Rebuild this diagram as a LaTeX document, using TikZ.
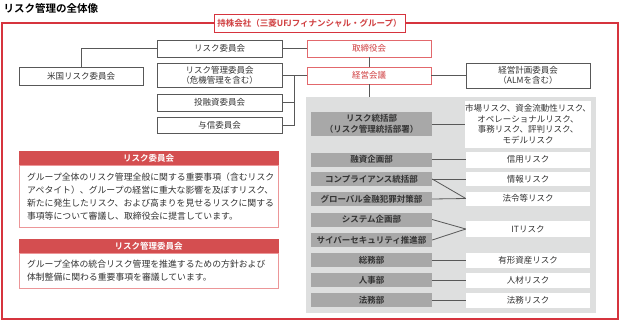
\documentclass[tikz,border=0pt]{standalone}
\usepackage{fontspec}
\setmainfont{Noto Sans CJK JP}[BoldFont={Noto Sans CJK JP Bold}]
\usetikzlibrary{positioning,calc}
\definecolor{frm}{RGB}{214,52,62}
\definecolor{rtx}{RGB}{208,62,64}
\definecolor{rbd}{RGB}{226,104,108}
\definecolor{hdr}{RGB}{212,78,80}
\definecolor{pbd}{RGB}{236,150,152}
\definecolor{gbg}{RGB}{222,223,223}
\definecolor{dpt}{RGB}{168,168,168}
\definecolor{ln}{RGB}{88,88,88}

\begin{document}
\begin{tikzpicture}[x=1pt,y=-1pt,
  cbox/.style={draw=ln,line width=0.8pt,fill=white,inner sep=0pt,minimum width=125,minimum height=17,align=center,font=\fontsize{8.5}{10}\selectfont,text=black!80},
  rbox/.style={draw=rbd,line width=0.8pt,fill=white,inner sep=0pt,minimum width=124,minimum height=17,align=center,font=\fontsize{8.5}{10}\selectfont,text=rtx},
  dbox/.style={fill=dpt,inner sep=0pt,minimum width=121,minimum height=14,align=center,font=\bfseries\fontsize{8.5}{10.5}\selectfont,text=black!80},
  kbox/.style={fill=white,inner sep=0pt,minimum width=124,minimum height=16,align=center,font=\fontsize{8.5}{10.5}\selectfont,text=black!80},
  hbox/.style={fill=hdr,draw=hdr,inner sep=0pt,minimum width=259,minimum height=13,font=\bfseries\fontsize{8.5}{10}\selectfont,text=white},
  tbox/.style={draw=pbd,line width=0.8pt,fill=white,inner xsep=8pt,inner ysep=0pt,text width=243,align=left,font=\fontsize{8.85}{13}\selectfont,text=black!80},
  cn/.style={draw=ln,line width=0.8pt}]
\useasboundingbox (0,0) rectangle (620,322);

\node[anchor=west,font=\bfseries\fontsize{10.5}{12}\selectfont] (ttl) at (0,8) {リスク管理の全体像};
\draw[frm,line width=1.5pt] (2,23) rectangle (618,319);
\node[draw=frm,line width=1pt,fill=white,inner sep=0pt,minimum width=191,minimum height=18,text=rtx,font=\bfseries\fontsize{8.5}{10}\selectfont] (hc) at (309.5,23) {持株会社（三菱UFJフィナンシャル・グループ）};

\node[fill=gbg,inner sep=0pt,minimum width=290,minimum height=216] (bg) at (451,205) {};

\node[rbox] (brd) at (369,48.5) {取締役会};
\node[rbox] (exe) at (369,75.5) {経営会議};
\node[cbox] (rc) at (219.5,48.5) {リスク委員会};
\node[cbox,minimum width=124,minimum height=18] (us) at (81,76) {米国リスク委員会};
\node[cbox,minimum height=24] (rmc) at (219.5,75.5) {リスク管理委員会\\（危機管理を含む）};
\node[cbox] (inv) at (219.5,102.5) {投融資委員会};
\node[cbox,minimum height=16] (crc) at (219.5,125) {与信委員会};
\node[cbox,minimum width=124,minimum height=25] (alm) at (528,75.5) {経営計画委員会\\（ALMを含む）};
\coordinate (jn) at (294,75.5);

\draw[cn] (rc) -- (brd);
\draw[cn] (us.north) |- (rc.west);
\draw[cn] (brd) -- (exe);
\draw[cn] (rmc) -- (exe);
\draw[cn] (inv.east) -| (jn);
\draw[cn] (crc.east) -| (jn);
\draw[cn] (exe) -- (alm);
\draw[cn] (exe.south) -- (exe.south |- bg.north);

\node[dbox,minimum height=24] (rm) at (371.5,124) {リスク統括部\\（リスク管理統括部署）};
\node[dbox] (loan) at (371.5,159.5) {融資企画部};
\node[dbox] (comp) at (371.5,179) {コンプライアンス統括部};
\node[dbox] (glob) at (371.5,199) {グローバル金融犯罪対策部};
\node[dbox] (sys) at (371.5,219.5) {システム企画部};
\node[dbox] (cyb) at (371.5,240) {サイバーセキュリティ推進部};
\node[dbox] (ga) at (371.5,260) {総務部};
\node[dbox] (hr) at (371.5,280) {人事部};
\node[dbox] (lgl) at (371.5,300) {法務部};

\node[kbox,minimum height=47] (mkt) at (528,124) {市場リスク、資金流動性リスク、\\オペレーショナルリスク、\\事務リスク、評判リスク、\\モデルリスク};
\node[kbox] (crd) at (528,159.5) {信用リスク};
\node[kbox,minimum height=14] (inf) at (528,179) {情報リスク};
\node[kbox,minimum height=14] (law) at (528,198.5) {法令等リスク};
\node[kbox] (it) at (528,229) {ITリスク};
\node[kbox,minimum height=15] (ast) at (528,260) {有形資産リスク};
\node[kbox,minimum height=15] (hum) at (528,280) {人材リスク};
\node[kbox,minimum height=15] (lgr) at (528,300) {法務リスク};

\draw[cn] (rm) -- (mkt);
\draw[cn] (loan) -- (crd);
\draw[cn] (comp.east) -- (inf.west);
\draw[cn] (comp.east) -- (law.west);
\draw[cn] (glob.east) -- (law.west);
\draw[cn] (sys.east) -- (it.west);
\draw[cn] (cyb.east) -- (it.west);
\draw[cn] (ga) -- (ast);
\draw[cn] (hr) -- (hum);
\draw[cn] (lgl) -- (lgr);

\node[hbox] (h1) at (148.5,158) {リスク委員会};
\node[tbox,anchor=north,minimum height=62] (b1) at (h1.south) {グループ全体のリスク管理全般に関する重要事項（含むリスク\\アペタイト）、グループの経営に重大な影響を及ぼすリスク、\\新たに発生したリスク、および高まりを見せるリスクに関する\\事項等について審議し、取締役会に提言しています。};
\node[hbox] (h2) at (148.5,246) {リスク管理委員会};
\node[tbox,anchor=north,minimum height=35] (b2) at (h2.south) {グループ全体の統合リスク管理を推進するための方針および\\体制整備に関わる重要事項を審議しています。};
\end{tikzpicture}
\end{document}
